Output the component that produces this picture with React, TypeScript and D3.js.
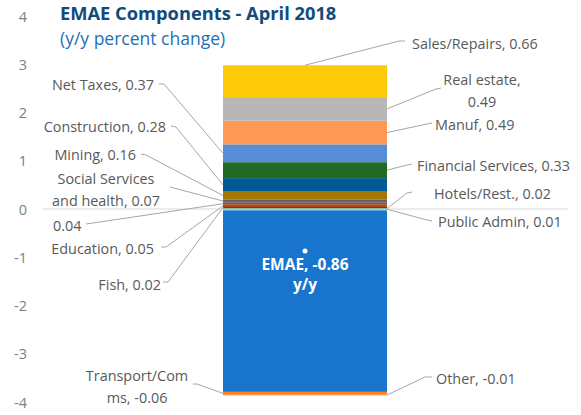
import React from "react";
import * as d3 from "d3";

// ---- data ----
const posNames = ["Public Admin", "Hotels/Rest.", "Fish", "Education", "Unnamed", "Social Services and health", "Mining", "Construction", "Financial Services", "Net Taxes", "Manuf", "Real estate", "Sales/Repairs"];
const posValues = [0.01, 0.02, 0.02, 0.05, 0.04, 0.07, 0.16, 0.28, 0.33, 0.37, 0.49, 0.49, 0.66];
const posColors = ["#5FB7E8", "#3E9A48", "#1F3A68", "#B5461C", "#A9441D", "#636363", "#A67700", "#005A94", "#236823", "#558ED5", "#FF9955", "#B7B7B7", "#FECB0A"];
const negNames = ["Agriculture", "Transport/Comms", "Other"];
const negValues = [-3.78, -0.06, -0.01];
const negColors = ["#1874CD", "#FF7F27", "#FF7F27"];
const totalName = "EMAE";
const totalValue = -0.86;
const yTicks = [-4, -3, -2, -1, 0, 1, 2, 3, 4];
const titleText = "EMAE Components - April 2018";
const subtitleText = "(y/y percent change)";

// label text lines per series
const labelLines: Record<string, string[]> = {
  "Sales/Repairs": ["Sales/Repairs, 0.66"],
  "Real estate": ["Real estate,", "0.49"],
  "Manuf": ["Manuf, 0.49"],
  "Financial Services": ["Financial Services, 0.33"],
  "Hotels/Rest.": ["Hotels/Rest., 0.02"],
  "Public Admin": ["Public Admin, 0.01"],
  "Net Taxes": ["Net Taxes, 0.37"],
  "Construction": ["Construction, 0.28"],
  "Mining": ["Mining, 0.16"],
  "Social Services and health": ["Social Services", "and health, 0.07"],
  "Unnamed": ["0.04"],
  "Education": ["Education, 0.05"],
  "Fish": ["Fish, 0.02"],
  "Transport/Comms": ["Transport/Com", "ms, -0.06"],
  "Other": ["Other, -0.01"],
};

// ---- layout (label placement) ----
type Lay = { x: number; y: number; anchor: "start" | "end" | "middle"; lead: [number, number][]; side: "left" | "right" | "top" };
const layout: Record<string, Lay> = {
  "Sales/Repairs": { x: 412, y: 49, anchor: "start", lead: [[405, 41], [399, 41]], side: "top" },
  "Real estate": { x: 482, y: 85, anchor: "middle", lead: [[441, 88], [436, 89]], side: "right" },
  "Manuf": { x: 435, y: 130, anchor: "start", lead: [[432, 123], [427, 124]], side: "right" },
  "Financial Services": { x: 417, y: 171, anchor: "start", lead: [[412, 164], [407, 165]], side: "right" },
  "Hotels/Rest.": { x: 434, y: 199, anchor: "start", lead: [[412, 192], [407, 193]], side: "right" },
  "Public Admin": { x: 438, y: 227, anchor: "start", lead: [[432, 221], [427, 220]], side: "right" },
  "Net Taxes": { x: 154, y: 90, anchor: "end", lead: [[159, 84], [164, 84]], side: "left" },
  "Construction": { x: 166, y: 132, anchor: "end", lead: [[171, 126], [176, 127]], side: "left" },
  "Mining": { x: 136, y: 160, anchor: "end", lead: [[141, 154], [146, 155]], side: "left" },
  "Social Services and health": { x: 106, y: 184, anchor: "middle", lead: [[170, 187]], side: "left" },
  "Unnamed": { x: 53, y: 231, anchor: "start", lead: [[86, 224]], side: "left" },
  "Education": { x: 154, y: 254, anchor: "end", lead: [[161, 247], [166, 247]], side: "left" },
  "Fish": { x: 161, y: 290, anchor: "end", lead: [[163, 282], [168, 282]], side: "left" },
  "Transport/Comms": { x: 137, y: 381, anchor: "middle", lead: [[193, 384], [197, 384]], side: "left" },
  "Other": { x: 436, y: 384, anchor: "start", lead: [[432, 377], [425, 377]], side: "right" },
};

const W = 581, H = 415;
const FONT = "'Open Sans', 'Noto Sans', sans-serif";

export default function App() {
  const y = d3.scaleLinear().domain([-4, 4]).range([402.5, 16.5]);
  const x = d3.scaleBand().domain(["EMAE"]).range([223, 387]).padding(0);
  const bx = x("EMAE") as number;
  const bw = x.bandwidth();

  type Seg = { name: string; y0: number; y1: number; color: string };
  const segs: Seg[] = [];
  let acc = 0;
  posValues.forEach((v, i) => {
    segs.push({ name: posNames[i], y0: acc, y1: acc + v, color: posColors[i] });
    acc += v;
  });
  const posTop = acc;
  acc = 0;
  negValues.forEach((v, i) => {
    segs.push({ name: negNames[i], y0: acc, y1: acc + v, color: negColors[i] });
    acc += v;
  });

  const line = d3.line<[number, number]>();

  return (
    <svg width={W} height={H} style={{ position: "absolute", left: 0, top: 0, background: "#fff" }} fontFamily={FONT}>
      {/* y tick labels */}
      {yTicks.map((t) => (
        <text key={t} x={27} y={y(t)} dy="0.35em" textAnchor="end" fontSize={14.5} fill="#808080">
          {t}
        </text>
      ))}
      {/* bars */}
      {segs.map((s) => (
        <rect key={s.name} x={bx} width={bw} y={y(Math.max(s.y0, s.y1))} height={Math.abs(y(s.y0) - y(s.y1))} fill={s.color} />
      ))}
      {/* zero line */}
      <line x1={43} x2={568} y1={y(0) - 0.5} y2={y(0) - 0.5} stroke="#D9D9D9" strokeWidth={1} />
      <line x1={bx} x2={bx + bw} y1={y(0) + 0.5} y2={y(0) + 0.5} stroke="#9ED3F0" strokeWidth={1} />
      {/* leaders and labels */}
      {segs.map((s) => {
        const L = layout[s.name];
        if (!L) return null;
        const mid = (s.y0 + s.y1) / 2;
        let target: [number, number];
        if (L.side === "top") target = [bx + bw / 2, y(posTop)];
        else if (L.side === "left") target = [bx, y(mid)];
        else target = [bx + bw, y(mid)];
        const pts: [number, number][] = [...L.lead, target];
        const lines = labelLines[s.name];
        return (
          <g key={"l" + s.name}>
            <path d={line(pts) || ""} fill="none" stroke="#A6A6A6" strokeWidth={1} />
            <text x={L.x} y={L.y} textAnchor={L.anchor} fontSize={14.4} fill="#595959">
              {lines.map((ln, i) => (
                <tspan key={i} x={L.x} dy={i === 0 ? 0 : 21.5}>
                  {ln}
                </tspan>
              ))}
            </text>
          </g>
        );
      })}
      {/* total marker */}
      <circle cx={bx + bw / 2} cy={y(totalValue)} r={2.5} fill="#fff" />
      <text x={bx + bw / 2} y={270} textAnchor="middle" fontSize={15.5} fontWeight="bold" fill="#fff">
        {`${totalName}, ${totalValue}`}
      </text>
      <text x={bx + bw / 2} y={290} textAnchor="middle" fontSize={15.5} fontWeight="bold" fill="#fff">
        y/y
      </text>
      {/* title */}
      <text x={60} y={20} fontSize={18.3} fontWeight="bold" fill="#124A7C">
        {titleText}
      </text>
      <text x={60} y={45} fontSize={17.5} fill="#2270B5">
        {subtitleText}
      </text>
    </svg>
  );
}
